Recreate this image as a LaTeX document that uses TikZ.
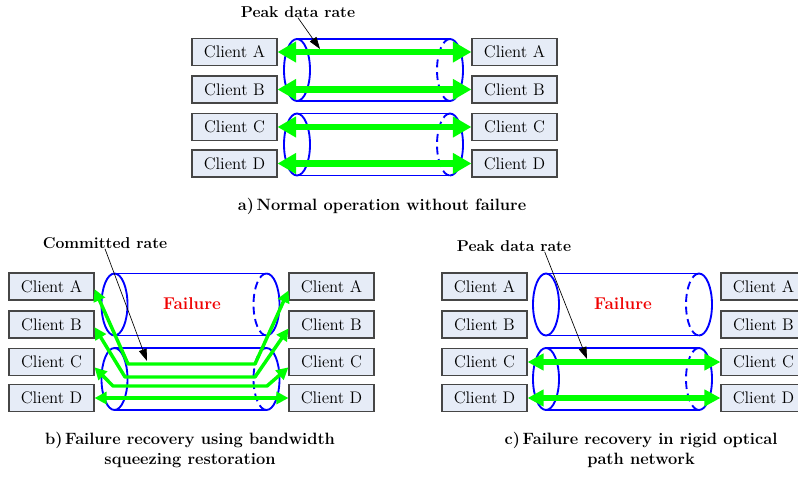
\documentclass[tikz,border=0pt]{standalone}
\usetikzlibrary{arrows.meta}
\definecolor{boxfill}{RGB}{230,236,247}
\definecolor{boxline}{RGB}{70,70,70}
\definecolor{pipeblue}{RGB}{0,0,255}
\definecolor{flowgreen}{RGB}{0,255,0}
\definecolor{failred}{RGB}{240,0,0}
\tikzset{
  client/.style={draw=boxline, fill=boxfill, line width=0.8pt, minimum width=63.75pt,
    minimum height=20.25pt, inner sep=0pt, font=\fontsize{12.6}{14}\selectfont},
  pipe/.style={draw=pipeblue, line width=1.4pt},
  pipeback/.style={pipe, dash pattern=on 6pt off 3.5pt},
  peakflow/.style={draw=flowgreen, line width=5pt,
    {Triangle[length=14pt,width=15pt]}-{Triangle[length=14pt,width=15pt]}},
  halfflow/.style={draw=flowgreen, line width=4pt,
    {Triangle[length=12pt,width=12pt]}-{Triangle[length=12pt,width=12pt]}},
  sqzflow/.style={draw=flowgreen, line width=2.6pt, line join=round,
    {Triangle[length=9pt,width=9pt]}-{Triangle[length=9pt,width=9pt]}},
  pointer/.style={line width=0.5pt, -{Triangle[length=9pt,width=6pt]}},
  tag/.style={font=\fontsize{11.8}{14.5}\selectfont\bfseries, inner sep=0pt},
  failtag/.style={tag, font=\fontsize{12.8}{14.5}\selectfont\bfseries, text=failred},
  caption/.style={tag, font=\fontsize{12.3}{14.5}\selectfont\bfseries, align=center}
}
\begin{document}
\begin{tikzpicture}[x=0.75pt, y=-0.75pt]
  \useasboundingbox[fill=white] (0,0) rectangle (798,477);

  % pipes
  \foreach \xl/\xr/\yc in {297/450/70, 297/450/144.5, 114.5/266.5/304.5,
      114.5/266.5/379, 546/699/304.5, 546/699/379} {
    \draw[pipe] (\xl,\yc) ellipse [x radius=9.75pt, y radius=23.25pt];
    \draw[pipe] (\xl,\yc-31) -- (\xr,\yc-31) (\xl,\yc+31) -- (\xr,\yc+31);
    \draw[pipe] (\xr,\yc-31) arc [start angle=90, end angle=-90, x radius=9.75pt, y radius=23.25pt];
    \draw[pipeback] (\xr,\yc-31) arc [start angle=90, end angle=270, x radius=9.75pt, y radius=23.25pt];
  }

  % a) normal operation
  \node[client] (la1) at (234.5,52) {Client A};
  \node[client] (la2) at (234.5,89.5) {Client B};
  \node[client] (la3) at (234.5,127) {Client C};
  \node[client] (la4) at (234.5,163.5) {Client D};
  \node[client] (ra1) at (514.5,52) {Client A};
  \node[client] (ra2) at (514.5,89.5) {Client B};
  \node[client] (ra3) at (514.5,127) {Client C};
  \node[client] (ra4) at (514.5,163.5) {Client D};
  \draw[peakflow] (la1) -- (ra1);
  \draw[peakflow] (la2) -- (ra2);
  \draw[peakflow] (la3) -- (ra3);
  \draw[peakflow] (la4) -- (ra4);
  \node[tag] (peaka) at (298,12) {Peak data rate};
  \coordinate (pa) at (320,49);
  \draw[pointer] (peaka.south) -- (pa);
  \node[caption] (capa) at (382,206) {a)\,Normal operation without failure};

  % b) bandwidth squeezing
  \node[client] (lb1) at (51.5,286.5) {Client A};
  \node[client] (lb2) at (51.5,324.5) {Client B};
  \node[client] (lb3) at (51.5,362) {Client C};
  \node[client] (lb4) at (51.5,398) {Client D};
  \node[client] (rb1) at (331.5,286.5) {Client A};
  \node[client] (rb2) at (331.5,324.5) {Client B};
  \node[client] (rb3) at (331.5,362) {Client C};
  \node[client] (rb4) at (331.5,398) {Client D};
  \node[failtag] (failb) at (192,304) {Failure};
  \draw[sqzflow] ([yshift=-2pt]lb1.east) -- (128,364) -- (255,364) -- ([yshift=-3pt]rb1.west);
  \draw[sqzflow] ([yshift=-2pt]lb2.east) -- (125,377) -- (255,377) -- ([yshift=-3pt]rb2.west);
  \draw[sqzflow] ([yshift=-4pt]lb3.east) -- (113,386) -- (267,386) -- ([yshift=-4pt]rb3.west);
  \draw[sqzflow] (lb4) -- (rb4);
  \node[tag] (commit) at (105,243) {Committed rate};
  \coordinate (pb) at (147,361);
  \draw[pointer] (commit.south) -- (pb);
  \node[caption] (capb) at (190,450) {b)\,Failure recovery using bandwidth\\squeezing restoration};

  % c) rigid optical path
  \node[client] (lc1) at (484.5,286.5) {Client A};
  \node[client] (lc2) at (484.5,324.5) {Client B};
  \node[client] (lc3) at (484.5,362) {Client C};
  \node[client] (lc4) at (484.5,398) {Client D};
  \node[client] (rc1) at (763.5,286.5) {Client A};
  \node[client] (rc2) at (763.5,324.5) {Client B};
  \node[client] (rc3) at (763.5,362) {Client C};
  \node[client] (rc4) at (763.5,398) {Client D};
  \node[failtag] (failc) at (623,304) {Failure};
  \draw[halfflow] (lc3) -- (rc3);
  \draw[halfflow] (lc4) -- (rc4);
  \node[tag] (peakc) at (514,246) {Peak data rate};
  \coordinate (pc) at (587,359);
  \draw[pointer] ([xshift=23pt]peakc.south) -- (pc);
  \node[caption] (capc) at (641,450) {c)\,Failure recovery in rigid optical\\path network};
\end{tikzpicture}
\end{document}
